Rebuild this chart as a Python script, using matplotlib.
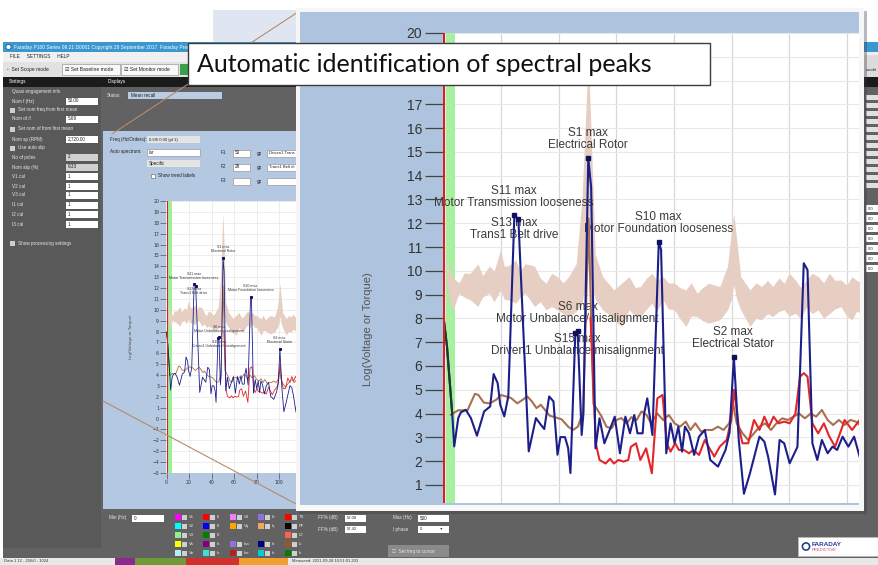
import matplotlib
matplotlib.use('Agg')
import matplotlib.pyplot as plt
from matplotlib.patches import Rectangle, Circle
from matplotlib.lines import Line2D

# ---- spectrum traces (x in Hz, y in log units) ----
blue_x = [0.0, 1.1, 2.9, 3.6, 5.0, 5.9, 7.6, 9.4, 11.5, 14.0, 16.1, 17.3, 18.7, 19.6, 21.0, 22.4,
          24.5, 25.9, 29.5, 32.0, 33.7, 34.9, 36.6, 38.1, 39.5, 40.5, 42.1, 43.2, 44.0, 45.7, 46.5,
          47.9, 48.5, 50.2, 51.2, 52.7, 54.1, 55.8, 57.6, 59.4, 61.2, 63.1, 64.7, 66.2, 67.3, 69.1,
          69.6, 70.7, 72.5, 74.7, 75.5, 77.3, 78.8, 80.2, 81.5, 82.8, 83.8, 85.2, 87.0, 88.7, 90.7,
          92.6, 95.3, 97.9, 99.3, 100.8, 102.5, 104.3, 106.4, 109.7, 111.4, 112.7, 115.1, 116.7,
          118.3, 120.2, 122.9, 125.1, 126.4, 128.1, 129.8, 131.4, 133.4, 135.1, 136.7, 138.6, 140.6,
          142.6, 145.0]
blue_y = [7.95, 6.8, 4.0, 2.62, 3.81, 4.05, 4.16, 3.81, 3.07, 4.09, 4.30, 5.66, 5.28, 4.37, 3.88, 4.72,
          12.33, 12.17, 2.41, 3.81, 3.53, 3.35, 4.72, 4.51, 2.27, 3.01, 3.01, 2.55, 1.5, 7.4, 7.48,
          3.1, 4.0, 14.74, 13.5, 2.54, 3.8, 2.75, 3.3, 3.87, 2.33, 3.87, 3.17, 3.94, 3.17, 3.17,
          4.0, 4.64, 3.1, 11.2, 10.9, 2.33, 3.59, 2.75, 3.45, 2.4, 3.45, 3.17, 2.26, 3.03, 3.31,
          2.05, 1.77, 2.47, 3.2, 6.37, 2.89, 0.63, 1.49, 3.03, 2.82, 2.19, 0.6, 2.89,
          2.75, 1.91, 2.6, 10.32, 10.04, 2.75, 2.05, 2.89, 2.33, 2.61, 2.47, 3.03, 2.61,
          3.03, 1.98]

red_x = [51.0, 52.8, 54.1, 56.2, 57.8, 59.1, 60.7, 62.4, 64.1, 65.0, 66.8, 68.3, 70.3, 72.3, 74.2,
         76.0, 77.5, 78.8, 80.4, 81.7, 83.4, 85.2, 86.7, 88.7, 90.7, 92.0, 94.0, 95.9, 98.3, 99.9,
         100.9, 102.5, 103.8, 105.8, 107.8, 109.7, 111.4, 113.0, 114.6, 116.3, 118.3, 120.2, 122.2,
         123.8, 125.1, 126.4, 128.1, 130.1, 132.1, 134.0, 136.0, 137.7, 139.3, 141.9, 144.5]
red_y = [8.0, 2.75, 2.05, 1.9, 2.1, 1.9, 2.05, 1.98, 2.05, 2.6, 2.75, 2.05, 2.54, 1.49, 4.64,
         4.78, 2.75, 2.4, 2.75, 2.47, 2.47, 2.33, 2.47, 2.26, 2.89, 2.61, 2.19, 2.61, 2.89, 3.73,
         5.0, 3.45, 2.75, 2.75, 3.73, 3.31, 3.87, 3.45, 3.87, 3.59, 3.66, 3.59, 4.0,
         5.55, 5.7, 5.55, 3.59, 3.17, 3.59, 3.03, 2.61, 3.17, 3.73, 3.31, 3.73]

brown_x = [2.4, 5.0, 8.2, 9.6, 10.8, 12.0, 13.9, 15.9, 18.2, 19.9, 21.6, 23.4, 25.5, 27.4, 29.0,
           30.6, 32.2, 33.7, 35.1, 36.8, 38.5, 40.9, 43.2, 44.9, 46.6, 48.4, 50.3, 52.0, 53.0, 54.8,
           56.5, 58.3, 60.0, 61.7, 63.5, 65.2, 67.0, 68.7, 70.4, 72.0, 74.2, 76.2, 78.2, 80.2, 82.1,
           84.1, 85.7, 87.4, 89.4, 91.3, 93.3, 95.3, 97.2, 99.2, 100.5, 101.8, 103.8, 105.8, 107.8,
           109.7, 111.7, 113.7, 115.6, 117.6, 119.6, 121.5, 123.5, 125.5, 127.5, 129.4, 131.4,
           133.4, 135.3, 137.3, 139.3, 141.3, 143.2, 145.2]
brown_y = [3.95, 4.14, 4.13, 4.51, 4.83, 4.78, 4.46, 4.43, 4.58, 4.78, 4.72, 4.65, 4.43, 4.58, 4.72,
           4.51, 4.23, 4.37, 4.16, 3.91, 3.85, 3.76, 3.45, 3.31, 3.45, 4.09, 12.2, 4.4, 4.23, 3.88,
           3.45, 3.38, 3.73, 3.81, 3.59, 3.85, 3.73, 4.09, 3.95, 3.6, 4.0, 3.73, 3.94, 3.59, 3.45,
           3.66, 3.31, 3.59, 3.24, 3.31, 3.31, 3.45, 3.31, 3.59, 4.43, 3.59, 3.17, 2.89, 3.17,
           3.45, 3.59, 3.31, 3.59, 3.8, 3.73, 3.87, 4.0, 3.8, 4.0, 3.87, 4.15,
           3.73, 3.52, 3.73, 3.52, 3.73, 3.66, 3.45]

# dark start segment at the left edge
start_x = [0.0, 1.1, 2.9]
start_y = [7.95, 6.8, 4.0]

# baseline envelope (shaded band)
band_x = [1.0, 2.0, 3.2, 5.3, 7.0, 9.2, 11.8, 13.5, 15.8, 17.5, 19.7, 21.0, 22.3, 25.0, 26.5, 28.3,
          31.5, 33.5, 35.5, 37.5, 39.4, 41.5, 43.4, 46.0, 48.0, 49.3, 50.2, 51.2, 52.6, 55.2, 57.0,
          59.1, 61.8, 64.4, 66.5, 68.3, 70.5, 72.3, 74.0, 76.2, 78.0, 80.2, 82.0, 84.1, 86.0, 88.0,
          90.0, 92.0, 95.9, 98.6, 99.9, 100.8, 101.8, 103.2, 106.4, 108.5, 110.4, 112.5, 114.3,
          116.5, 118.3, 120.0, 122.2, 124.0, 126.1, 128.0, 130.1, 132.0, 134.0, 136.0, 138.0,
          140.0, 141.9, 143.5, 145.2]
band_hi = [10.6, 10.0, 9.7, 9.5, 9.9, 9.9, 10.3, 9.8, 10.2, 10.0, 10.9, 10.2, 10.2, 10.46, 10.0, 10.3,
           10.2, 9.7, 9.48, 9.9, 9.76, 9.5, 9.76, 10.3, 13.0, 16.6, 18.9, 15.8, 10.7, 9.76, 9.5,
           9.2, 9.48, 9.76, 9.3, 9.34, 9.7, 9.9, 9.6, 9.76, 9.5, 9.48, 9.3, 9.2, 9.5, 9.06,
           9.3, 9.48, 9.34, 10.2, 11.6, 12.4, 11.3, 9.76, 9.2, 9.5, 9.34, 9.6, 9.34,
           9.7, 9.48, 9.9, 9.62, 9.3, 9.62, 9.9, 9.76, 9.5, 9.9, 9.6, 9.62,
           9.4, 9.76, 9.6, 9.48]
band_lo = [9.6, 8.7, 8.36, 9.06, 8.9, 8.78, 8.5, 8.9, 9.06, 8.7, 9.2, 8.8, 8.78, 8.64, 8.9, 9.06,
           8.5, 8.7, 8.36, 8.5, 8.36, 8.2, 8.08, 8.3, 8.6, 9.5, 10.5, 9.5, 8.8, 8.36, 8.2,
           7.94, 7.66, 8.36, 8.1, 8.08, 8.4, 8.64, 8.3, 8.78, 8.4, 8.36, 8.0, 7.66, 8.1, 8.08,
           7.9, 7.8, 7.94, 8.36, 8.8, 9.4, 8.8, 8.36, 7.66, 8.0, 7.94, 8.2, 8.08,
           8.3, 8.36, 8.1, 8.22, 8.0, 8.5, 8.2, 8.36, 8.0, 8.2, 8.4, 8.5,
           8.1, 7.94, 8.3, 8.22]

# identified peaks
peak_names = ['S1 max', 'S11 max', 'S13 max', 'S10 max', 'S6 max', 'S15 max', 'S2 max']
peak_desc = ['Electrical Rotor', 'Motor Transmission looseness', 'Trans1 Belt drive',
             'Motor Foundation looseness', 'Motor Unbalance/misalignment',
             'Driven1 Unbalance/misalignment', 'Electrical Stator']
peak_x = [50.2, 24.5, 25.9, 74.7, 46.5, 45.7, 100.8]
peak_y = [14.74, 12.33, 12.17, 11.2, 7.48, 7.4, 6.37]
label_x = [50.2, 24.3, 24.3, 74.6, 46.5, 46.5, 100.5]
label_y = [15.55, 13.12, 11.77, 12.0, 8.24, 6.88, 7.18]

W, H = 879, 565
UI_FONT = ['Liberation Sans', 'DejaVu Sans']
fig = plt.figure(figsize=(W / 100, H / 100), dpi=100)
fig.patch.set_facecolor('white')


def fig_rect(x0, y0, x1, y1):
    return [x0 / W, 1 - y1 / H, (x1 - x0) / W, (y1 - y0) / H]


def box(ax, x0, y0, x1, y1, fc, ec='none', lw=0.5):
    ax.add_patch(Rectangle((x0, y0), x1 - x0, y1 - y0, facecolor=fc, edgecolor=ec, linewidth=lw))


def txt(ax, x, y, s, size=3.3, color='#e8e8e8', **kw):
    ax.text(x, y, s, fontsize=size, color=color, va='center', family=UI_FONT, **kw)


# ---------------- software window (pixel coordinates) ----------------
ui = fig.add_axes([0, 0, 1, 1], zorder=0)
ui.set_xlim(0, W)
ui.set_ylim(H, 0)
ui.axis('off')

box(ui, 213, 10, 297, 45, '#dfe6f2')
box(ui, 3, 42, 879, 558, '#626262')
box(ui, 3, 42, 879, 52, '#3a97cf')
ui.add_patch(Circle((8.5, 47), 2.6, facecolor='white', edgecolor='#1b5f95', lw=0.6))
txt(ui, 14, 47, 'Faraday P100 Series 09.21 D0001 Copyright 28 September 2017  Faraday Predictive',
    size=3.5, color='white')
box(ui, 3, 52, 879, 62, '#f0f0f0')
txt(ui, 10, 57, 'FILE     SETTINGS     HELP', size=3.4, color='#222')
box(ui, 3, 62, 879, 77, '#e2e2e2')
txt(ui, 7, 69.5, '\u25e6  Set Scope mode', size=3.6, color='#222')
for bx0, bx1, s in [(62, 120, 'Set Baseline mode'), (121, 178, 'Set Monitor mode')]:
    box(ui, bx0, 64, bx1, 75, '#f8f8f8', ec='#9a9a9a')
    txt(ui, bx0 + 3, 69.5, '\u2611 ' + s, size=3.6, color='#222')
box(ui, 180, 64, 190, 75, '#3aa04a')
box(ui, 3, 77, 879, 87, '#1b1b1b')
txt(ui, 9, 82, 'Settings', size=3.4, color='white')
txt(ui, 108, 82, 'Displays', size=3.4, color='white')
box(ui, 3, 87, 101, 548, '#595959')

settings_rows = [('Quasi engagement info', 92, None), ('Nom f (Hz)', 101, '50.00'),
                 ('Set nom freq from first mean', 110, 'chk'), ('Nom of /f', 119, '5.69'),
                 ('Set nom of from first mean', 129, 'chk'), ('Nom sp (RPM)', 139, '2,720.00'),
                 ('Use auto slip', 148, 'chk'), ('No of poles', 157, '2'), ('Nom slip (%)', 167, '9.33'),
                 ('V1 cal', 176, '1'), ('V2 cal', 186, '1'), ('V3 cal', 195, '1'), ('I1 cal', 205, '1'),
                 ('I2 cal', 214, '1'), ('I3 cal', 224, '1'), ('Show processing settings', 243, 'chk')]
for name, yy, val in settings_rows:
    if val == 'chk':
        box(ui, 10, yy - 2.5, 15, yy + 2.5, '#cfcfcf')
        txt(ui, 18, yy, name)
    else:
        txt(ui, 12, yy, name)
        if val is not None:
            fc = '#d0d0d0' if name in ('No of poles', 'Nom slip (%)') else 'white'
            box(ui, 66, yy - 3.5, 98, yy + 3.5, fc)
            txt(ui, 68, yy, val, color='#222')

txt(ui, 107, 95.5, 'Status:')
box(ui, 128, 92, 222, 99, '#b9cce4')
txt(ui, 131, 95.5, 'Mean recall', color='#222')

# light blue display panel
box(ui, 103, 131, 300, 509, '#b4c8e1')
txt(ui, 110, 139, 'Freq (Hz/Orders):', color='#222')
box(ui, 147, 136, 200, 143, '#e4e4e4')
txt(ui, 149, 139.5, '0.69/ 0.00 (pf 1)', color='#222', size=3.0)
txt(ui, 110, 152, 'Auto spectrum:', color='#222')
box(ui, 147, 149, 200, 156, 'white', ec='#999')
txt(ui, 149, 152.5, 'Iar', color='#222')
box(ui, 147, 160, 200, 167, '#e4e4e4')
txt(ui, 149, 163.5, 'Specific', color='#222')
box(ui, 151, 173.5, 155, 177.5, 'white', ec='#777')
txt(ui, 158, 175.5, 'Show trend labels', color='#222')
for fy_, fname, fval, fdesc in [(153, 'F1', '50', 'Driven1 Trans'), (167, 'F2', '28', 'Trans1 Belt dr'),
                                (181, 'F3', '', '')]:
    txt(ui, 221, fy_, fname, color='#222')
    box(ui, 233, fy_ - 3.5, 250, fy_ + 3.5, 'white', ec='#999')
    txt(ui, 235, fy_, fval, color='#222')
    txt(ui, 257, fy_, 'gp', color='#222')
    box(ui, 267, fy_ - 3.5, 300, fy_ + 3.5, 'white', ec='#999')
    txt(ui, 269, fy_, fdesc, color='#222', size=3.0)

# bottom strip of the window
txt(ui, 109, 518, 'Min (Hz)')
box(ui, 132, 514.5, 164, 521.5, 'white')
txt(ui, 134, 518, '0', color='#222')
legend_cols = [(175, [('#ff00ff', 'V1'), ('#00ffff', 'V2'), ('#90ee90', 'V3'), ('#ffff00', 'Va'), ('#b0f0f0', 'Vb')]),
               (203, [('#ff0000', 'I1'), ('#0000ff', 'I2'), ('#008000', 'I3'), ('#800080', 'Ia'), ('#40e0d0', 'Ib')]),
               (230, [('#ee82ee', 'V4'), ('#ffa500', 'Vq'), (None, ''), ('#9370db', 'Iaa'), ('#b22222', 'Ibe')]),
               (258, [('#9370db', 'Id'), ('#f4a460', 'Iq'), (None, ''), ('#000080', 'Ia'), ('#00ced1', 'Ib')]),
               (285, [('#ff0000', 'TS'), ('#000000', 'PF'), ('#ff6347', 'I/Z'), ('#a0522d', 'Iu'), ('#008000', 'Iz')])]
for cx, items in legend_cols:
    for k, (col, lab) in enumerate(items):
        if col is None:
            continue
        yy = 517 + k * 9
        box(ui, cx, yy - 3, cx + 6, yy + 3, col)
        box(ui, cx + 7.5, yy - 2.5, cx + 12, yy + 2.5, '#cfcfcf')
        txt(ui, cx + 14, yy, lab, size=3.0)
txt(ui, 318, 518, 'FF% (dB)')
box(ui, 345, 514.5, 366, 521.5, 'white')
txt(ui, 347, 518, '52.08', color='#222', size=3.0)
txt(ui, 318, 529, 'FF% (dB)')
box(ui, 345, 525.5, 366, 532.5, 'white')
txt(ui, 347, 529, '57.42', color='#222', size=3.0)
txt(ui, 393, 518, 'Max (Hz)')
box(ui, 418, 514.5, 449, 521.5, 'white')
txt(ui, 420, 518, '500', color='#222')
txt(ui, 393, 529, 'I phase')
box(ui, 418, 525.5, 449, 532.5, 'white')
txt(ui, 420, 529, '0                \u25be', color='#222', size=3.0)
box(ui, 388, 545, 449, 557, '#8a8a8a')
txt(ui, 392, 551, '\u2610  Set freq to cursor')
box(ui, 798, 537, 879, 556, 'white', ec='#bbbbbb')
ui.add_patch(Circle((806, 546.5), 3.6, facecolor='none', edgecolor='#2a3f8f', lw=1.2))
txt(ui, 812, 544, 'FARADAY', size=4.6, color='#2a3f8f', weight='bold')
txt(ui, 812, 550, 'PREDICTIVE', size=3.0, color='#d0407a')

# status bar
box(ui, 0, 558, 879, 565, '#e8e8e8')
for sx0, sx1, sc in [(115, 135, '#8a2a8a'), (135, 186, '#6e9a3a'), (186, 239, '#d2302a'), (239, 288, '#f0a030')]:
    box(ui, sx0, 558, sx1, 565, sc)
txt(ui, 4, 561.5, 'Data 1 12 - 256/0 - 1024', size=3.0, color='#333')
txt(ui, 292, 561.5, 'Measured: 2021-09-28 10:51:01.203', size=3.0, color='#333')

# right edge of the window (peeking out behind the zoomed chart)
box(ui, 864, 55, 879, 77, '#dcdcdc')
txt(ui, 866, 70, 'condit', size=3.0, color='#222')
for k in range(12):
    box(ui, 866, 95 + k * 8, 879, 100 + k * 8, '#e0e0e0')
for k in range(7):
    box(ui, 866, 205 + k * 10, 879, 212 + k * 10, 'white')
    txt(ui, 868, 208.5 + k * 10, '0.0', size=3.0, color='#222')

# ---------------- small chart inside the software ----------------
axs = fig.add_axes(fig_rect(166, 201, 297, 473), zorder=1)
axs.set_xlim(-0.5, 116)
axs.set_ylim(-5, 20)
axs.fill_between(band_x, band_lo, band_hi, color='#e6cfc2', lw=0, zorder=0.9)
axs.axvspan(0.6, 4.5, color='#9ff09a', lw=0, zorder=0.8)
axs.plot(brown_x, brown_y, color='#a8704f', lw=0.6)
axs.plot(red_x, red_y, color='#e3262a', lw=0.6)
axs.plot(blue_x, blue_y, color='#1c1f8a', lw=0.6)
axs.plot(start_x, start_y, color='#1f3a28', lw=0.6)
axs.plot(peak_x, peak_y, 's', color='#101060', ms=1.2)
axs.axvline(0, color='#d82020', lw=0.8)
for lx, ly, n, d in zip(label_x, label_y, peak_names, peak_desc):
    axs.text(lx, ly, n + '\n' + d, fontsize=2.6, ha='center', va='center', color='#333',
             linespacing=1.0, family='Liberation Sans', zorder=1.5)
axs.set_yticks(range(-5, 21))
axs.set_xticks(range(0, 120, 20))
axs.tick_params(length=4, width=0.4, labelsize=3.3, pad=1, colors='#333')
axs.grid(color='#e0e0e0', lw=0.4)
axs.set_axisbelow(True)
for sp in axs.spines.values():
    sp.set_visible(False)
axs.text(-0.27, 0.5, 'Log(Voltage or Torque)', transform=axs.transAxes, rotation=90,
         fontsize=2.8, ha='center', va='center', color='#444')

# zoom guide lines
fig.add_artist(Line2D([112 / W, 298 / W], [1 - 134 / H, 1 - 12 / H], color='#b58b70', lw=0.8, zorder=2.5))
fig.add_artist(Line2D([103 / W, 298 / W], [1 - 401 / H, 1 - 505 / H], color='#b58b70', lw=0.8, zorder=2.5))

# ---------------- magnified chart ----------------
fig.add_artist(Rectangle((299 / W, 1 - 514 / H), 568 / W, 503 / H, transform=fig.transFigure,
                         facecolor='#3a3a3a', alpha=0.35, lw=0, zorder=2.8))
fig.add_artist(Rectangle((296 / W, 1 - 511 / H), 568 / W, 503 / H, transform=fig.transFigure,
                         facecolor='#f7f7f7', lw=0, zorder=3))
fig.add_artist(Rectangle((300 / W, 1 - 505 / H), 559 / W, 493 / H, transform=fig.transFigure,
                         facecolor='#adc3de', lw=0, zorder=3.1))

ax = fig.add_axes(fig_rect(443, 33, 859, 503), zorder=4)
ax.set_xlim(-0.3, 144.3)
ax.set_ylim(0.24, 20)
ax.fill_between(band_x, band_lo, band_hi, color='#e6cfc2', lw=0, zorder=0.9)
ax.axvspan(0.7, 3.8, color='#a6f0a0', lw=0, zorder=0.8)
ax.plot(brown_x, brown_y, color='#a8704f', lw=1.5, zorder=2)
ax.plot(red_x, red_y, color='#e3262a', lw=1.5, zorder=2.1)
ax.plot(blue_x, blue_y, color='#1c1f8a', lw=1.5, zorder=2.2)
ax.plot(start_x, start_y, color='#1f3a28', lw=1.5, zorder=2.3)
ax.plot(peak_x, peak_y, 's', color='#101060', ms=3.5, zorder=2.4)
ax.axvline(0, color='#d82020', lw=1.6, zorder=2.5)
for lx, ly, n, d in zip(label_x, label_y, peak_names, peak_desc):
    ax.text(lx, ly, n + '\n' + d, fontsize=8.5, ha='center', va='center', color='#3a3a3a',
            linespacing=1.0, family='Liberation Sans', zorder=1.5)

# 18 and 19 sit behind the caption box in the screenshot
ytick_vals = list(range(1, 21))
ax.set_yticks(ytick_vals)
ax.set_yticklabels(['' if v in (18, 19) else str(v) for v in ytick_vals])
ax.set_xticks(range(20, 150, 20))
ax.tick_params(axis='x', bottom=False, labelbottom=False)
ax.tick_params(axis='y', direction='out', length=13, width=0.9, colors='#444',
               labelsize=10, pad=2)
for lab in ax.get_yticklabels():
    lab.set_family('Liberation Sans')
    lab.set_color('#333')
ax.grid(axis='x', color='#d8d8d8', lw=0.9)
ax.grid(axis='y', color='#e8e8e8', lw=0.8)
ax.set_axisbelow(True)
for sp in ax.spines.values():
    sp.set_visible(False)
ax.text(-0.18, 0.37, 'Log(Voltage or Torque)', transform=ax.transAxes, rotation=90,
        fontsize=8, ha='center', va='center', color='#555', family='Liberation Sans')

# ---------------- slide caption box ----------------
fig.add_artist(Rectangle((188 / W, 1 - 85 / H), 522 / W, 42 / H, transform=fig.transFigure,
                         facecolor='white', edgecolor='#3c3c3c', lw=1.0, zorder=6))
fig.text(197 / W, 1 - 64.5 / H, 'Automatic identification of spectral peaks', fontsize=18,
         family='Lato', va='center', ha='left', color='#111', zorder=7)

fig.savefig('out.png', dpi=100)
